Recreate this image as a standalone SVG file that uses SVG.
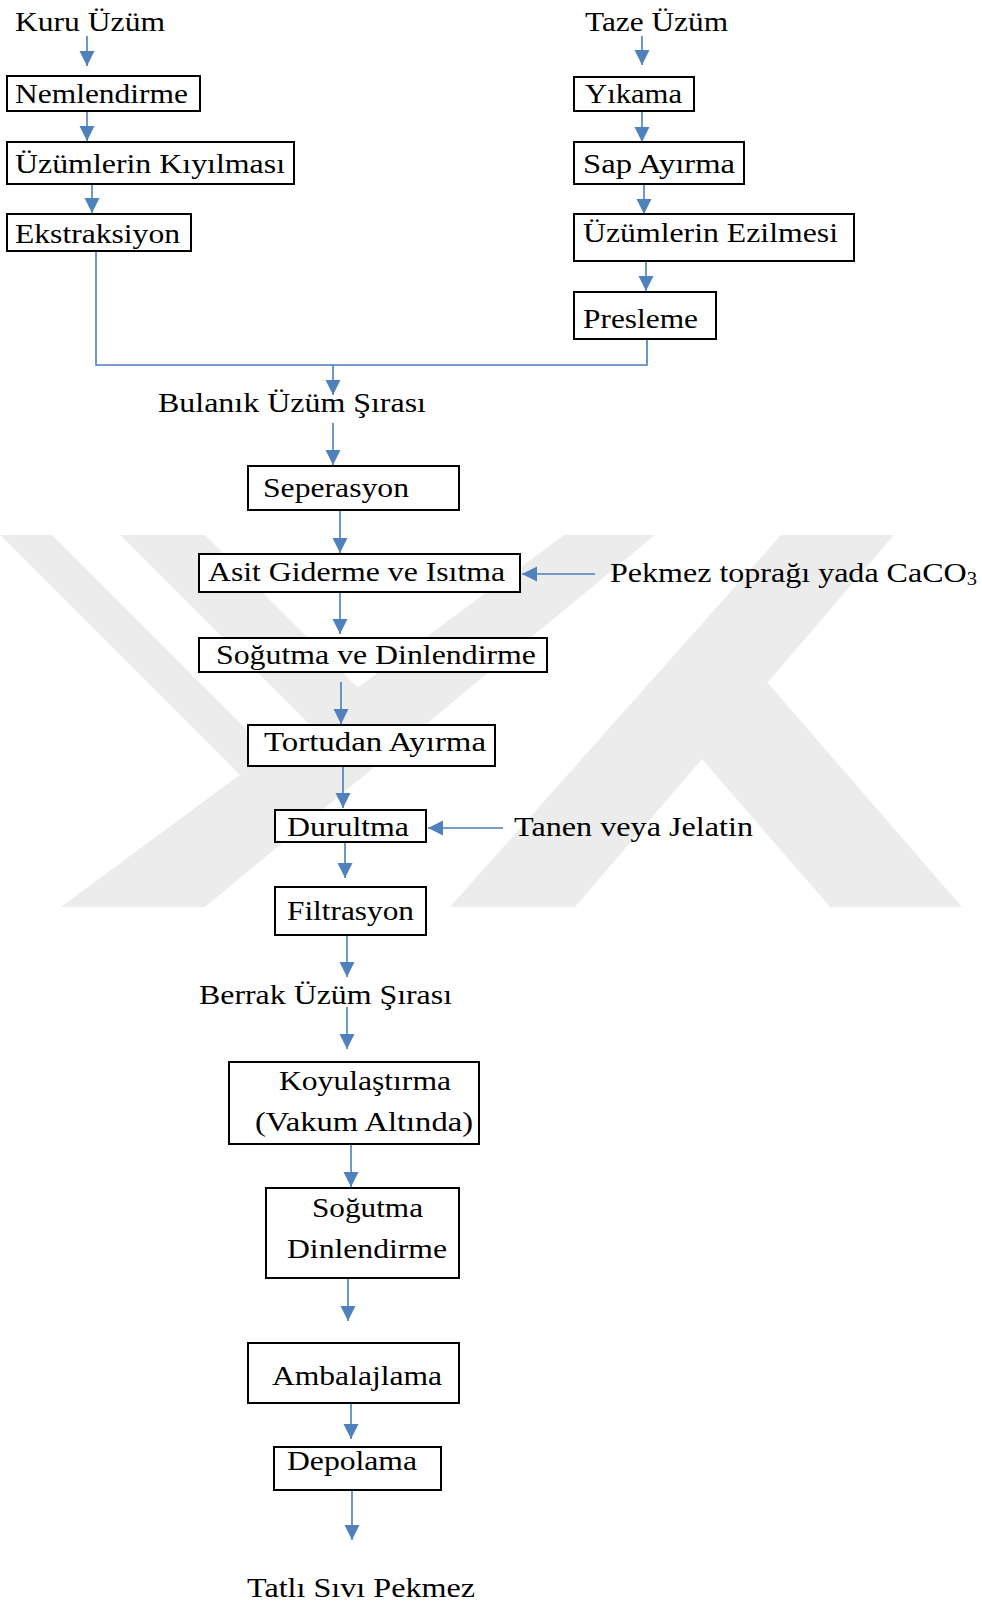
<svg xmlns="http://www.w3.org/2000/svg" width="982" height="1604" viewBox="0 0 982 1604">
  <defs>
    <style>
      .box { fill: #ffffff; stroke: #000000; stroke-width: 2; }
      .lbl { font-family: "Liberation Serif", "Times New Roman", serif; font-size: 28px; fill: #000000; }
      .con { fill: none; stroke: #4a7ebb; stroke-width: 1.6; }
      .mark { fill: #ececec; }
    </style>
    <marker id="arrow" markerUnits="userSpaceOnUse" markerWidth="16" markerHeight="16" refX="15" refY="7.5" orient="auto">
      <path d="M0,0 L15,7.5 L0,15 Z" fill="#4f81bd"/>
    </marker>
  </defs>

  <rect width="982" height="1604" fill="#ffffff"/>

  <!-- background emblem -->
  <g id="emblem">
    <polygon class="mark" points="0,535 52,535 270,753 240,775"/>
    <polygon class="mark" points="120,535 205,535 358,688 309,724"/>
    <polygon class="mark" points="564,535 655,535 205,907 61,907"/>
    <polygon class="mark" points="781,535 894,535 575,907 450,907"/>
    <polygon class="mark" points="767,682 962,907 830,907 701,758"/>
  </g>

  <!-- connectors -->
  <g id="connectors">
    <line class="con" x1="87" y1="36" x2="87" y2="66" marker-end="url(#arrow)"/>
    <line class="con" x1="87" y1="111" x2="87" y2="141" marker-end="url(#arrow)"/>
    <line class="con" x1="92" y1="184" x2="92" y2="213" marker-end="url(#arrow)"/>
    <line class="con" x1="642" y1="36" x2="642" y2="65" marker-end="url(#arrow)"/>
    <line class="con" x1="642" y1="111" x2="642" y2="142" marker-end="url(#arrow)"/>
    <line class="con" x1="644" y1="184" x2="644" y2="214" marker-end="url(#arrow)"/>
    <line class="con" x1="646" y1="261" x2="646" y2="291" marker-end="url(#arrow)"/>
    <polyline class="con" points="96,251 96,365 647,365 647,339"/>
    <line class="con" x1="333" y1="365" x2="333" y2="395" marker-end="url(#arrow)"/>
    <line class="con" x1="333" y1="423" x2="333" y2="465" marker-end="url(#arrow)"/>
    <line class="con" x1="340" y1="510" x2="340" y2="553" marker-end="url(#arrow)"/>
    <line class="con" x1="595" y1="574" x2="522" y2="574" marker-end="url(#arrow)"/>
    <line class="con" x1="340" y1="592" x2="340" y2="634" marker-end="url(#arrow)"/>
    <line class="con" x1="341" y1="682" x2="341" y2="724" marker-end="url(#arrow)"/>
    <line class="con" x1="343" y1="766" x2="343" y2="808" marker-end="url(#arrow)"/>
    <line class="con" x1="503" y1="828" x2="428" y2="828" marker-end="url(#arrow)"/>
    <line class="con" x1="345" y1="842" x2="345" y2="878" marker-end="url(#arrow)"/>
    <line class="con" x1="347" y1="935" x2="347" y2="977" marker-end="url(#arrow)"/>
    <line class="con" x1="347" y1="1007" x2="347" y2="1049" marker-end="url(#arrow)"/>
    <line class="con" x1="351" y1="1144" x2="351" y2="1187" marker-end="url(#arrow)"/>
    <line class="con" x1="348" y1="1278" x2="348" y2="1321" marker-end="url(#arrow)"/>
    <line class="con" x1="351" y1="1403" x2="351" y2="1439" marker-end="url(#arrow)"/>
    <line class="con" x1="352" y1="1490" x2="352" y2="1540" marker-end="url(#arrow)"/>
  </g>

  <!-- dried grape branch -->
  <g id="kuru-uzum"><text class="lbl" x="15" y="31" textLength="150" lengthAdjust="spacingAndGlyphs">Kuru Üzüm</text></g>
  <g id="nemlendirme">
    <rect class="box" x="7" y="76" width="193" height="35"/>
    <text class="lbl" x="15" y="103" textLength="173" lengthAdjust="spacingAndGlyphs">Nemlendirme</text>
  </g>
  <g id="kiyilma">
    <rect class="box" x="7" y="142" width="287" height="42"/>
    <text class="lbl" x="15" y="173" textLength="270" lengthAdjust="spacingAndGlyphs">Üzümlerin Kıyılması</text>
  </g>
  <g id="ekstraksiyon">
    <rect class="box" x="7" y="214" width="184" height="37"/>
    <text class="lbl" x="15" y="243" textLength="165" lengthAdjust="spacingAndGlyphs">Ekstraksiyon</text>
  </g>

  <!-- fresh grape branch -->
  <g id="taze-uzum"><text class="lbl" x="585" y="31" textLength="143" lengthAdjust="spacingAndGlyphs">Taze Üzüm</text></g>
  <g id="yikama">
    <rect class="box" x="574" y="77" width="120" height="34"/>
    <text class="lbl" x="585" y="103" textLength="97" lengthAdjust="spacingAndGlyphs">Yıkama</text>
  </g>
  <g id="sap-ayirma">
    <rect class="box" x="574" y="142" width="170" height="42"/>
    <text class="lbl" x="583" y="173" textLength="152" lengthAdjust="spacingAndGlyphs">Sap Ayırma</text>
  </g>
  <g id="ezilme">
    <rect class="box" x="574" y="214" width="280" height="47"/>
    <text class="lbl" x="583" y="242" textLength="255" lengthAdjust="spacingAndGlyphs">Üzümlerin Ezilmesi</text>
  </g>
  <g id="presleme">
    <rect class="box" x="574" y="292" width="142" height="47"/>
    <text class="lbl" x="583" y="328" textLength="115" lengthAdjust="spacingAndGlyphs">Presleme</text>
  </g>

  <!-- common line -->
  <g id="bulanik-sira"><text class="lbl" x="158" y="412" textLength="268" lengthAdjust="spacingAndGlyphs">Bulanık Üzüm Şırası</text></g>
  <g id="seperasyon">
    <rect class="box" x="248" y="466" width="211" height="44"/>
    <text class="lbl" x="263" y="497" textLength="146" lengthAdjust="spacingAndGlyphs">Seperasyon</text>
  </g>
  <g id="asit-giderme">
    <rect class="box" x="199" y="554" width="321" height="38"/>
    <text class="lbl" x="208" y="581" textLength="297" lengthAdjust="spacingAndGlyphs">Asit Giderme ve Isıtma</text>
  </g>
  <g id="pekmez-topragi"><text class="lbl" x="610" y="582" textLength="367" lengthAdjust="spacingAndGlyphs">Pekmez toprağı yada CaCO<tspan font-size="18" dy="3">3</tspan></text></g>
  <g id="sogutma-dinlendirme-1">
    <rect class="box" x="199" y="638" width="348" height="34"/>
    <text class="lbl" x="216" y="664" textLength="320" lengthAdjust="spacingAndGlyphs">Soğutma ve Dinlendirme</text>
  </g>
  <g id="tortudan-ayirma">
    <rect class="box" x="248" y="725" width="247" height="41"/>
    <text class="lbl" x="264" y="751" textLength="222" lengthAdjust="spacingAndGlyphs">Tortudan Ayırma</text>
  </g>
  <g id="durultma">
    <rect class="box" x="275" y="810" width="151" height="32"/>
    <text class="lbl" x="287" y="836" textLength="122" lengthAdjust="spacingAndGlyphs">Durultma</text>
  </g>
  <g id="tanen-jelatin"><text class="lbl" x="514" y="836" textLength="239" lengthAdjust="spacingAndGlyphs">Tanen veya Jelatin</text></g>
  <g id="filtrasyon">
    <rect class="box" x="275" y="887" width="151" height="48"/>
    <text class="lbl" x="287" y="920" textLength="127" lengthAdjust="spacingAndGlyphs">Filtrasyon</text>
  </g>
  <g id="berrak-sira"><text class="lbl" x="199" y="1004" textLength="253" lengthAdjust="spacingAndGlyphs">Berrak Üzüm Şırası</text></g>
  <g id="koyulastirma">
    <rect class="box" x="229" y="1062" width="250" height="82"/>
    <text class="lbl" x="279" y="1090" textLength="172" lengthAdjust="spacingAndGlyphs">Koyulaştırma</text>
    <text class="lbl" x="255" y="1131" textLength="218" lengthAdjust="spacingAndGlyphs">(Vakum Altında)</text>
  </g>
  <g id="sogutma-dinlendirme-2">
    <rect class="box" x="266" y="1188" width="193" height="90"/>
    <text class="lbl" x="312" y="1217" textLength="111" lengthAdjust="spacingAndGlyphs">Soğutma</text>
    <text class="lbl" x="287" y="1258" textLength="160" lengthAdjust="spacingAndGlyphs">Dinlendirme</text>
  </g>
  <g id="ambalajlama">
    <rect class="box" x="248" y="1343" width="211" height="60"/>
    <text class="lbl" x="272" y="1385" textLength="170" lengthAdjust="spacingAndGlyphs">Ambalajlama</text>
  </g>
  <g id="depolama">
    <rect class="box" x="274" y="1447" width="167" height="43"/>
    <text class="lbl" x="287" y="1470" textLength="130" lengthAdjust="spacingAndGlyphs">Depolama</text>
  </g>
  <g id="tatli-sivi-pekmez"><text class="lbl" x="247" y="1597" textLength="228" lengthAdjust="spacingAndGlyphs">Tatlı Sıvı Pekmez</text></g>
</svg>
